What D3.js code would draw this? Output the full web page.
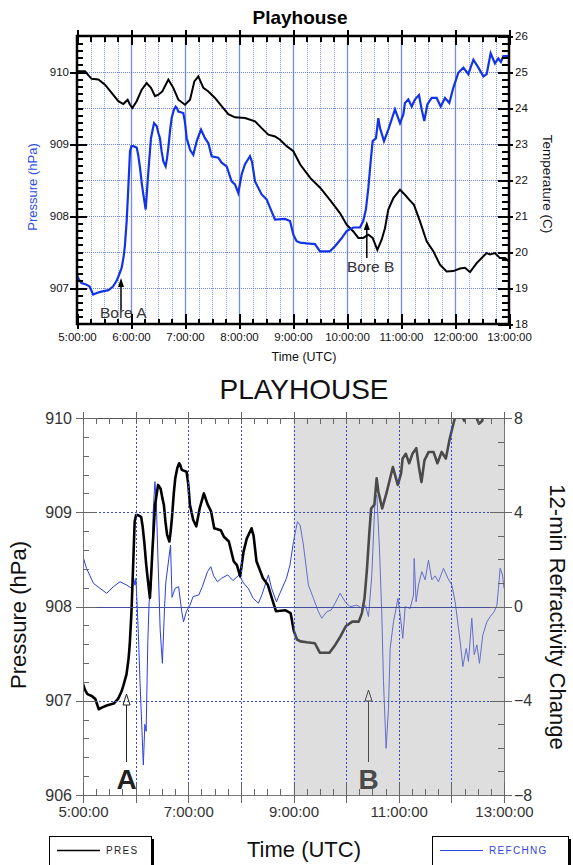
<!DOCTYPE html>
<html>
<head>
<meta charset="utf-8">
<script src="https://cdn.jsdelivr.net/npm/d3@7"></script>
<style>
  body { margin: 0; background: #fff; }
  svg text { font-family: "Liberation Sans", Arial, sans-serif; }
</style>
</head>
<body>
<svg id="chart" width="573" height="865"></svg>
<script>
// ---- Data: minutes after 05:00 UTC ----
const presMinutes = [0, 2, 5, 10, 14, 18, 22, 27, 31, 35, 40, 44, 46, 49.6, 52, 53.3, 55.2, 57, 58.9, 60.5, 62.6, 66.3, 68, 70, 72, 73.7, 76.3, 77.5, 79.3, 82.2, 85.6, 88.5, 90.5, 92.2, 94, 95.9, 98.5, 100, 101.5, 103.5, 105.2, 107.5, 109.6, 111, 112.6, 118.1, 120, 121.9, 125.6, 129.2, 133, 137.8, 142.2, 146, 149.6, 157, 160.7, 166.3, 171.8, 175.5, 179.2, 183, 186.7, 192.2, 194.5, 197.8, 205.2, 210.7, 216.3, 220, 231, 236.7, 240.4, 244, 248, 255.2, 264.4, 270, 281, 286.7, 294, 299.6, 307, 314.4, 318, 321, 323.7, 326.3, 328.5, 332.2, 334.8, 336.7, 341.1, 345.9, 349.6, 353.3, 358.9, 362.6, 364.4, 368.1, 371.9, 375.6, 380, 383, 385.9, 389.3, 394.1, 399.6, 404.1, 408.9, 413.7, 418.1, 423.7, 429.3, 434.8, 440.4, 446, 451.5, 455.2, 459.6, 464.4, 468.1, 471, 473.7, 480];
const presHpa = [907.18, 907.12, 907.07, 907.05, 907.02, 906.91, 906.93, 906.95, 906.96, 906.97, 907.02, 907.10, 907.16, 907.28, 907.45, 907.60, 907.93, 908.39, 908.90, 908.97, 908.97, 908.95, 908.85, 908.67, 908.45, 908.30, 908.09, 908.30, 908.62, 909.08, 909.29, 909.25, 909.15, 909.08, 908.90, 908.76, 908.69, 908.80, 908.95, 909.20, 909.36, 909.47, 909.52, 909.50, 909.45, 909.43, 909.30, 909.08, 908.92, 908.85, 909.04, 909.20, 909.08, 909.01, 908.83, 908.81, 908.74, 908.69, 908.48, 908.44, 908.32, 908.58, 908.72, 908.83, 908.75, 908.48, 908.30, 908.23, 908.06, 907.95, 907.96, 907.93, 907.74, 907.65, 907.63, 907.62, 907.61, 907.51, 907.51, 907.58, 907.69, 907.79, 907.84, 907.84, 907.93, 908.09, 908.39, 908.76, 909.04, 909.08, 909.36, 909.22, 909.04, 909.20, 909.34, 909.48, 909.29, 909.41, 909.57, 909.62, 909.52, 909.62, 909.68, 909.48, 909.32, 909.55, 909.64, 909.64, 909.52, 909.64, 909.57, 909.78, 909.99, 910.06, 909.97, 910.17, 910.06, 909.94, 909.97, 910.26, 910.12, 910.19, 910.14, 910.22, 910.22];

const tempMinutes = [0, 9, 13, 16.3, 23.7, 31.1, 38.5, 45.9, 51.5, 56.3, 58.9, 61.5, 66.3, 71.9, 77.4, 82.2, 86.7, 90.4, 94.8, 101.5, 107, 112.6, 120, 125.6, 130.4, 134.8, 140.4, 146, 153.3, 160.7, 168.1, 175.5, 186.7, 197.8, 205.2, 212.6, 220, 225.6, 233, 240.4, 248, 259.1, 270.4, 281, 292.2, 299.6, 307, 312.6, 318, 323.7, 328.5, 333.7, 338.5, 342.2, 345.9, 351.5, 358.9, 364.4, 369.3, 374.4, 381.1, 388.5, 395.9, 403.3, 410.7, 418.1, 425.6, 431.1, 436.7, 444.1, 451.5, 455.2, 458.9, 464.4, 470, 475.6, 480];
const tempC = [25.02, 25.02, 24.9, 24.81, 24.79, 24.65, 24.42, 24.19, 24.11, 24.23, 24.09, 24.0, 24.19, 24.51, 24.69, 24.56, 24.33, 24.37, 24.46, 24.79, 24.56, 24.23, 24.09, 24.23, 24.74, 24.88, 24.56, 24.46, 24.28, 24.05, 23.83, 23.74, 23.72, 23.63, 23.44, 23.26, 23.21, 23.12, 22.94, 22.80, 22.43, 22.06, 21.78, 21.45, 21.08, 20.76, 20.57, 20.39, 20.39, 20.48, 20.39, 20.06, 20.34, 20.66, 21.18, 21.50, 21.73, 21.59, 21.45, 21.31, 20.85, 20.30, 20.02, 19.65, 19.46, 19.47, 19.54, 19.56, 19.44, 19.69, 19.88, 19.97, 19.93, 19.97, 19.83, 19.83, 19.74];

const refMinutes = [0, 4, 8, 12, 19.4, 27, 34.6, 42.2, 49.8, 55.5, 57.4, 59.3, 60.4, 63.1, 65, 68.8, 70.5, 72, 73.9, 75.4, 78, 80, 82, 83.5, 85.5, 88, 90.5, 93, 94.5, 99.8, 101.5, 105, 109, 112.6, 114.6, 118, 122, 125.5, 132, 136, 142, 145.7, 149, 153.3, 158, 165, 171, 178, 183, 188.4, 194, 200, 204, 211.4, 215, 220.6, 224.5, 232, 236, 240, 244.5, 247.5, 251.3, 257, 262.7, 268.4, 272.2, 278, 283, 287.4, 293.1, 298.9, 304.5, 312.2, 318, 322, 325.5, 329.3, 333, 335, 338, 340.7, 342.6, 345.6, 348.3, 350.2, 354, 357, 359, 361.6, 364.6, 367.3, 373, 376.8, 377.6, 379.8, 382.5, 386.3, 390.1, 393.9, 397.7, 401.5, 405.3, 411, 416, 420.5, 424.3, 426.2, 430, 433.1, 436.9, 439.5, 443.3, 446, 449.1, 452, 455.9, 460.5, 464.2, 468.8, 471.9, 473.7, 475.6, 478.3, 480];
const refChange = [2.12, 1.62, 1.3, 0.98, 0.77, 0.56, 0.84, 1.05, 0.91, 0.77, 1.26, 0.9, 1.2, -1.15, -3.19, -6.73, -5.0, -5.3, -1.49, 0.2, 0.9, 4.0, 5.3, 4.5, 2.0, -1.0, -2.41, 0.0, 1.05, 2.61, 0.39, 0.77, 0.84, -0.22, -0.65, -0.2, 0.06, 0.42, 0.49, 0.84, 1.48, 1.69, 1.3, 1.05, 1.2, 1.34, 1.1, 1.34, 1.0, 0.77, 0.35, 0.14, 0.5, 1.34, 0.77, 0.2, 0.56, 1.2, 1.76, 2.75, 3.6, 3.46, 2.61, 0.91, 0.35, -0.22, -0.5, -0.22, -0.15, 0.14, 0.56, 0.2, -0.01, 0.06, -0.08, 0.05, -0.43, 1.34, 4.59, 4.73, 2.47, -0.36, -3.19, -6.02, -4.32, -1.78, -0.65, -0.08, 0.35, -0.36, -1.35, -0.01, -0.08, 0.49, 2.04, 0.2, 0.91, 1.48, 1.13, 1.97, 1.13, 1.3, 1.05, 1.62, 1.2, 0.91, 0.2, -0.36, -1.49, -2.55, -1.78, -2.33, -0.5, -2.04, -1.63, -2.41, -1.2, -0.65, -0.43, -0.22, 0.06, 0.77, 1.62, 1.34, 0.77];

// ---- Tick values ----
const hourTicks = d3.range(0, 481, 60);
const quarterTicks = d3.range(0, 481, 15);
const lowerTimeLabels = [0, 120, 240, 360, 480];
const topPresTicks = [907, 908, 909, 910];
const topTempTicks = d3.range(18, 27, 1);
const lowPresTicks = [906, 907, 908, 909, 910];
const lowRefTicks = [-8, -4, 0, 4, 8];
const timeLabel = m => `${5 + Math.round(m / 60)}:00:00`;

const pres = presMinutes.map((m, i) => ({ m, v: presHpa[i] }));
const temp = tempMinutes.map((m, i) => ({ m, v: tempC[i] }));
const refr = refMinutes.map((m, i) => ({ m, v: refChange[i] }));

const svg = d3.select('#chart');

// Helper: draw a d3 axis and style its ticks
function axis(g, gen, { color = '#000', width = 2, font = 11.5, fill = '#111', keepLabels = true } = {}) {
  g.call(gen);
  g.select('.domain').remove();
  g.selectAll('.tick line').attr('stroke', color).attr('stroke-width', width).attr('shape-rendering', 'crispEdges');
  if (keepLabels) {
    g.selectAll('.tick text').attr('font-size', font).attr('fill', fill)
      .attr('font-family', '"Liberation Sans", Arial, sans-serif');
  } else {
    g.selectAll('.tick text').remove();
  }
  return g;
}

// ================= Upper chart: pressure and temperature =================
const L1 = 77, R1 = 509, T1 = 36, B1 = 324;
const x1 = d3.scaleLinear().domain([0, 480]).range([L1, R1]);
const yP1 = d3.scaleLinear().domain([906.5, 910.5]).range([B1, T1]);
const yT1 = d3.scaleLinear().domain([18, 26]).range([B1, T1]);

const up = svg.append('g');

// grid
up.append('g').selectAll('line').data(quarterTicks.filter(m => m > 0 && m < 480)).join('line')
  .attr('x1', d => Math.round(x1(d)) + 0.5).attr('x2', d => Math.round(x1(d)) + 0.5)
  .attr('y1', T1).attr('y2', B1)
  .attr('stroke', d => d % 60 === 0 ? '#5a78f0' : '#3a5cf0')
  .attr('stroke-width', d => d % 60 === 0 ? 1.3 : 1)
  .attr('stroke-dasharray', d => d % 60 === 0 ? null : '1,1')
  .attr('opacity', d => d % 60 === 0 ? 0.85 : 0.6);
up.append('g').selectAll('line').data(d3.range(907, 910.5, 0.5)).join('line')
  .attr('x1', L1).attr('x2', R1)
  .attr('y1', d => Math.round(yP1(d)) + 0.5).attr('y2', d => Math.round(yP1(d)) + 0.5)
  .attr('stroke', '#3a5cf0').attr('stroke-dasharray', '1,1').attr('opacity', 0.75);

// series
up.append('path').datum(temp)
  .attr('fill', 'none').attr('stroke', '#000').attr('stroke-width', 2)
  .attr('d', d3.line().x(d => x1(d.m)).y(d => yT1(d.v)));
up.append('path').datum(pres)
  .attr('fill', 'none').attr('stroke', '#1333e6').attr('stroke-width', 2.2)
  .attr('d', d3.line().x(d => x1(d.m)).y(d => yP1(d.v)));

// frame
up.append('rect').attr('x', L1).attr('y', T1).attr('width', R1 - L1).attr('height', B1 - T1)
  .attr('fill', 'none').attr('stroke', '#000').attr('stroke-width', 2.5);

// axes: bottom
axis(up.append('g').attr('transform', `translate(0,${B1})`),
  d3.axisBottom(x1).tickValues(quarterTicks).tickSize(-5).tickFormat(''), { keepLabels: false });
axis(up.append('g').attr('transform', `translate(0,${B1})`),
  d3.axisBottom(x1).tickValues(hourTicks).tickSize(-10).tickFormat(''), { keepLabels: false });
axis(up.append('g').attr('transform', `translate(0,${B1})`),
  d3.axisBottom(x1).tickValues(hourTicks).tickSize(5).tickPadding(4).tickFormat(timeLabel), { font: 11.5 });
// top
axis(up.append('g').attr('transform', `translate(0,${T1})`),
  d3.axisTop(x1).tickValues(quarterTicks).tickSize(-6).tickFormat(''), { keepLabels: false });
axis(up.append('g').attr('transform', `translate(0,${T1})`),
  d3.axisTop(x1).tickValues(hourTicks).tickSize(-9).tickFormat(''), { keepLabels: false });
axis(up.append('g').attr('transform', `translate(0,${T1})`),
  d3.axisTop(x1).tickValues(hourTicks).tickSize(6).tickFormat(''), { keepLabels: false });
// left (pressure)
axis(up.append('g').attr('transform', `translate(${L1},0)`),
  d3.axisLeft(yP1).tickValues(d3.range(906.6, 910.45, 0.1)).tickSize(-6).tickFormat(''), { keepLabels: false });
axis(up.append('g').attr('transform', `translate(${L1},0)`),
  d3.axisLeft(yP1).tickValues(topPresTicks).tickSize(-10).tickFormat(''), { keepLabels: false });
axis(up.append('g').attr('transform', `translate(${L1},0)`),
  d3.axisLeft(yP1).tickValues(topPresTicks).tickSize(7).tickPadding(1).tickFormat(d3.format('d')), { font: 11.5 });
// right (temperature)
axis(up.append('g').attr('transform', `translate(${R1},0)`),
  d3.axisRight(yT1).tickValues(d3.range(18.2, 26, 0.2)).tickSize(-7).tickFormat(''), { keepLabels: false });
axis(up.append('g').attr('transform', `translate(${R1},0)`),
  d3.axisRight(yT1).tickValues(topTempTicks).tickSize(-11).tickFormat(''), { keepLabels: false });
axis(up.append('g').attr('transform', `translate(${R1},0)`),
  d3.axisRight(yT1).tickValues(topTempTicks).tickSize(4).tickPadding(2).tickFormat(d3.format('d')), { font: 11.5 });

// titles
up.append('text').attr('x', 300).attr('y', 24).attr('text-anchor', 'middle')
  .attr('font-size', 19).attr('font-weight', 'bold').text('Playhouse');
up.append('text').attr('transform', 'translate(37,187) rotate(-90)').attr('text-anchor', 'middle')
  .attr('font-size', 13).attr('fill', '#2f4fe0').text('Pressure (hPa)');
up.append('text').attr('transform', 'translate(543,184) rotate(90)').attr('text-anchor', 'middle')
  .attr('font-size', 13.5).attr('fill', '#111').text('Temperature (C)');
up.append('text').attr('x', 304).attr('y', 361).attr('text-anchor', 'middle')
  .attr('font-size', 12.5).attr('fill', '#111').text('Time (UTC)');

// bore annotations (filled arrowheads)
function boreArrow(g, xm, yTip, yEnd, label, lx, ly) {
  const x = x1(xm);
  g.append('line').attr('x1', x).attr('x2', x).attr('y1', yEnd).attr('y2', yTip + 4)
    .attr('stroke', '#000').attr('stroke-width', 1.5);
  g.append('path').attr('d', `M${x},${yTip} L${x - 3},${yTip + 9} L${x + 3},${yTip + 9} Z`).attr('fill', '#000');
  g.append('text').attr('x', lx).attr('y', ly).attr('font-size', 15.5).attr('fill', '#333').text(label);
}
boreArrow(up, 48.9, 278, 310, 'Bore A', 100, 318);
boreArrow(up, 322, 221, 258, 'Bore B', 347, 272);

// ================= Lower chart: pressure and refractivity change =================
const L2 = 83, R2 = 504, T2 = 418, B2 = 795;
const x2 = d3.scaleLinear().domain([0, 480]).range([L2, R2]);
const yP2 = d3.scaleLinear().domain([906, 910]).range([B2, T2]);
const yR2 = d3.scaleLinear().domain([-8, 8]).range([B2, T2]);

const lo = svg.append('g');
svg.append('defs').append('clipPath').attr('id', 'plot2')
  .append('rect').attr('x', L2).attr('y', T2).attr('width', R2 - L2).attr('height', B2 - T2);

const series2 = lo.append('g').attr('clip-path', 'url(#plot2)');
series2.append('path').datum(refr)
  .attr('fill', 'none').attr('stroke', '#2a3fe0').attr('stroke-width', 1)
  .attr('d', d3.line().x(d => x2(d.m)).y(d => yR2(d.v)));
series2.append('path').datum(pres)
  .attr('fill', 'none').attr('stroke', '#000').attr('stroke-width', 2.6)
  .attr('stroke-linejoin', 'round')
  .attr('d', d3.line().x(d => x2(d.m)).y(d => yP2(d.v)));

// shaded period 09:00-13:00
lo.append('rect').attr('x', x2(240)).attr('y', T2).attr('width', x2(480) - x2(240)).attr('height', B2 - T2)
  .attr('fill', 'rgb(176,176,176)').attr('fill-opacity', 0.42);

// grid
lo.append('g').selectAll('line').data(hourTicks.filter(m => m > 0 && m < 480)).join('line')
  .attr('x1', d => Math.round(x2(d)) + 0.5).attr('x2', d => Math.round(x2(d)) + 0.5)
  .attr('y1', T2).attr('y2', B2)
  .attr('stroke', '#3346e8').attr('stroke-dasharray', '2,2');
lo.append('g').selectAll('line').data([907, 909]).join('line')
  .attr('x1', L2).attr('x2', R2)
  .attr('y1', d => Math.round(yP2(d)) + 0.5).attr('y2', d => Math.round(yP2(d)) + 0.5)
  .attr('stroke', '#3346e8').attr('stroke-dasharray', '2,2');
lo.append('line').attr('x1', L2).attr('x2', R2)
  .attr('y1', Math.round(yR2(0)) + 0.5).attr('y2', Math.round(yR2(0)) + 0.5)
  .attr('stroke', '#555').attr('stroke-width', 1.2);
lo.append('line').attr('x1', L2).attr('x2', R2)
  .attr('y1', Math.round(yR2(0)) + 0.5).attr('y2', Math.round(yR2(0)) + 0.5)
  .attr('stroke', '#3346e8').attr('stroke-dasharray', '2,2');

// frame
lo.append('path').attr('d', `M${L2 + 0.5},${T2} V${B2 + 0.5} H${R2 + 0.5} V${T2 + 0.5} H${L2}`)
  .attr('fill', 'none').attr('stroke', '#777').attr('stroke-width', 1);
lo.append('line').attr('x1', L2).attr('x2', R2).attr('y1', T2 + 0.5).attr('y2', T2 + 0.5)
  .attr('stroke', '#555').attr('stroke-width', 1);

const g2 = { color: '#666', width: 1, font: 15, fill: '#333' };
// bottom
axis(lo.append('g').attr('transform', `translate(0,${B2})`),
  d3.axisBottom(x2).tickValues(quarterTicks).tickSize(-6).tickFormat(''), { ...g2, keepLabels: false });
axis(lo.append('g').attr('transform', `translate(0,${B2})`),
  d3.axisBottom(x2).tickValues(hourTicks).tickSize(-12).tickFormat(''), { ...g2, keepLabels: false });
axis(lo.append('g').attr('transform', `translate(0,${B2})`),
  d3.axisBottom(x2).tickValues(hourTicks).tickSize(8).tickFormat(''), { ...g2, keepLabels: false });
axis(lo.append('g').attr('transform', `translate(0,${B2})`),
  d3.axisBottom(x2).tickValues(lowerTimeLabels).tickSize(0).tickPadding(11).tickFormat(timeLabel), g2);
// top
axis(lo.append('g').attr('transform', `translate(0,${T2})`),
  d3.axisTop(x2).tickValues(quarterTicks).tickSize(-6).tickFormat(''), { ...g2, keepLabels: false });
axis(lo.append('g').attr('transform', `translate(0,${T2})`),
  d3.axisTop(x2).tickValues(hourTicks).tickSize(6).tickFormat(''), { ...g2, keepLabels: false });
// left (pressure)
axis(lo.append('g').attr('transform', `translate(${L2},0)`),
  d3.axisLeft(yP2).tickValues(d3.range(906.2, 910, 0.2)).tickSize(-6).tickFormat(''), { ...g2, keepLabels: false });
axis(lo.append('g').attr('transform', `translate(${L2},0)`),
  d3.axisLeft(yP2).tickValues(lowPresTicks).tickSize(-14).tickFormat(''), { ...g2, keepLabels: false });
axis(lo.append('g').attr('transform', `translate(${L2},0)`),
  d3.axisLeft(yP2).tickValues(lowPresTicks).tickSize(7).tickPadding(4).tickFormat(d3.format('d')), { ...g2, font: 16 });
// right (refractivity)
axis(lo.append('g').attr('transform', `translate(${R2},0)`),
  d3.axisRight(yR2).tickValues(d3.range(-7, 8, 1)).tickSize(-6).tickFormat(''), { ...g2, keepLabels: false });
axis(lo.append('g').attr('transform', `translate(${R2},0)`),
  d3.axisRight(yR2).tickValues(lowRefTicks).tickSize(-14).tickFormat(''), { ...g2, keepLabels: false });
axis(lo.append('g').attr('transform', `translate(${R2},0)`),
  d3.axisRight(yR2).tickValues(lowRefTicks).tickSize(8).tickPadding(2).tickFormat(d3.format('d')), { ...g2, font: 16 });

// titles
lo.append('text').attr('x', 304).attr('y', 399).attr('text-anchor', 'middle')
  .attr('font-size', 28).attr('fill', '#111').text('PLAYHOUSE');
lo.append('text').attr('transform', 'translate(26,615) rotate(-90)').attr('text-anchor', 'middle')
  .attr('font-size', 22).attr('fill', '#111').text('Pressure (hPa)');
lo.append('text').attr('transform', 'translate(550,617) rotate(90)').attr('text-anchor', 'middle')
  .attr('font-size', 22).attr('fill', '#111').text('12-min Refractivity Change');
lo.append('text').attr('x', 304).attr('y', 857).attr('text-anchor', 'middle')
  .attr('font-size', 22).attr('fill', '#111').text('Time (UTC)');

// A / B markers with open arrowheads
function openArrow(g, xm, yTip, yEnd, label, color) {
  const x = Math.round(x2(xm)) + 0.5;
  g.append('line').attr('x1', x).attr('x2', x).attr('y1', yEnd).attr('y2', yTip + 11)
    .attr('stroke', color).attr('stroke-width', 1);
  g.append('path').attr('d', `M${x},${yTip} L${x - 3.5},${yTip + 11} L${x + 3.5},${yTip + 11} Z`)
    .attr('fill', 'none').attr('stroke', color).attr('stroke-width', 1);
  g.append('text').attr('x', x).attr('y', yEnd + 27).attr('text-anchor', 'middle')
    .attr('font-size', 28).attr('font-weight', 'bold').attr('fill', color).text(label);
}
openArrow(lo, 48.5, 694, 762, 'A', '#222');
openArrow(lo, 325, 690, 762, 'B', '#4a4a4a');

// legends
function legendBox(g, x, y, w, h, lineColor, label, textColor) {
  g.append('rect').attr('x', x + 3).attr('y', y + 3).attr('width', w).attr('height', h).attr('fill', '#000');
  g.append('rect').attr('x', x + 0.5).attr('y', y + 0.5).attr('width', w).attr('height', h)
    .attr('fill', '#fff').attr('stroke', '#000').attr('stroke-width', 1);
  g.append('line').attr('x1', x + 8).attr('x2', x + 51).attr('y1', y + 14.5).attr('y2', y + 14.5)
    .attr('stroke', lineColor).attr('stroke-width', lineColor === '#000' ? 1.6 : 1);
  g.append('text').attr('x', x + 57).attr('y', y + 18).attr('font-size', 10).attr('letter-spacing', 1.3)
    .attr('fill', textColor).text(label);
}
legendBox(lo, 49, 836, 102, 32, '#000', 'PRES', '#222');
legendBox(lo, 432, 836, 136, 32, '#3344e0', 'REFCHNG', '#3344e0');
</script>
</body>
</html>
